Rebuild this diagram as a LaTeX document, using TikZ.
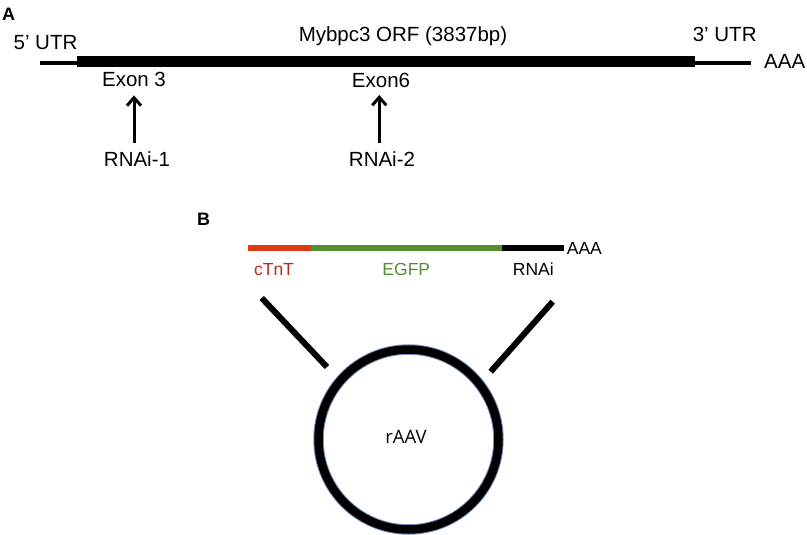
\documentclass[tikz,border=0pt]{standalone}
\usepackage{fontspec}
\setmainfont{Liberation Sans}
\newfontfamily\raavfont{Open Sans}
\usetikzlibrary{arrows.meta}
\definecolor{barred}{RGB}{222,58,22}
\definecolor{txtred}{RGB}{196,36,30}
\definecolor{egfpgreen}{RGB}{84,142,52}
\definecolor{ringblue}{RGB}{120,150,200}
\begin{document}
\begin{tikzpicture}[x=1pt,y=-1pt,
  lbl/.style={font=\fontsize{20.5}{23}\selectfont, inner sep=0pt, anchor=base},
  lblb/.style={font=\fontsize{17.5}{20}\selectfont, inner sep=0pt, anchor=base},
  panel/.style={font=\fontsize{18}{20}\selectfont\bfseries, inner sep=0pt, anchor=base west},
  arr/.style={line width=3pt, -{Straight Barb[length=8pt,width=14pt,line width=3pt]}},
  seg/.style={line width=6pt}]
\useasboundingbox (0,0) rectangle (807,535);
% panel A
\node[panel] (pA) at (2,21) {A};
\coordinate (u5) at (40,63);
\coordinate (u3) at (751,63);
\draw[line width=3.5pt] (u5) -- (u3);
\node (orf) [fill=black, minimum width=618.3pt, minimum height=11.3pt, inner sep=0pt] at (385.85,61.65) {};
\node[lbl] (t5) at (45.5,49.3) {5’ UTR};
\node[lbl] (torf) at (403,41.7) {Mybpc3 ORF (3837bp)};
\node[lbl] (t3) at (724.7,41.7) {3’ UTR};
\node[lbl, anchor=base west] (aaa1) at (764,68.3) {AAA};
\node[lbl] (ex3) at (134,87) {Exon 3};
\node[lbl] (ex6) at (381,88) {Exon6};
\node[lbl] (r1) at (137,166.7) {RNAi-1};
\node[lbl] (r2) at (382,166.7) {RNAi-2};
\draw[arr, shorten <=9pt, shorten >=8pt] (r1.north -| ex3.south) -- (ex3.south);
\draw[arr, shorten <=9pt, shorten >=7pt] (r2.north -| 379.3,0) -- (379.3,88);
% panel B
\node[panel] (pB) at (197,225) {B};
\coordinate (b0) at (248.3,248);
\coordinate (b1) at (310.7,248);
\coordinate (b2) at (502.3,248);
\coordinate (b3) at (564,248);
\draw[seg, barred] (b0) -- (b1);
\draw[seg, egfpgreen] (b1) -- (b2);
\draw[seg, black] (b2) -- (b3);
\node[lblb, anchor=base west] (aaa2) at (566.7,254.3) {AAA};
\node[lblb, text=txtred] (ctnt) at (274,275) {cTnT};
\node[lblb, text=egfpgreen] (egfp) at (406.3,275) {EGFP};
\node[lblb] (rnai) at (533.3,275) {RNAi};
\node (ring) [circle, draw=ringblue, line width=10.5pt, minimum size=180pt, inner sep=0pt] at (408.5,439.5) {};
\node (ring2) [circle, draw=black, line width=8.5pt, minimum size=180pt, inner sep=0pt] at (408.5,439.5) {};
\node[font=\raavfont\fontsize{18.5}{20}\selectfont, inner sep=0pt, anchor=base] (raav) at (406,443.3) {rAAV};
\coordinate (dl1) at (261.7,298);
\coordinate (dl2) at (327,367);
\coordinate (dr1) at (552.7,301.7);
\coordinate (dr2) at (490.7,371.7);
\draw[seg] (dl1) -- (dl2);
\draw[seg] (dr1) -- (dr2);
\end{tikzpicture}
\end{document}
